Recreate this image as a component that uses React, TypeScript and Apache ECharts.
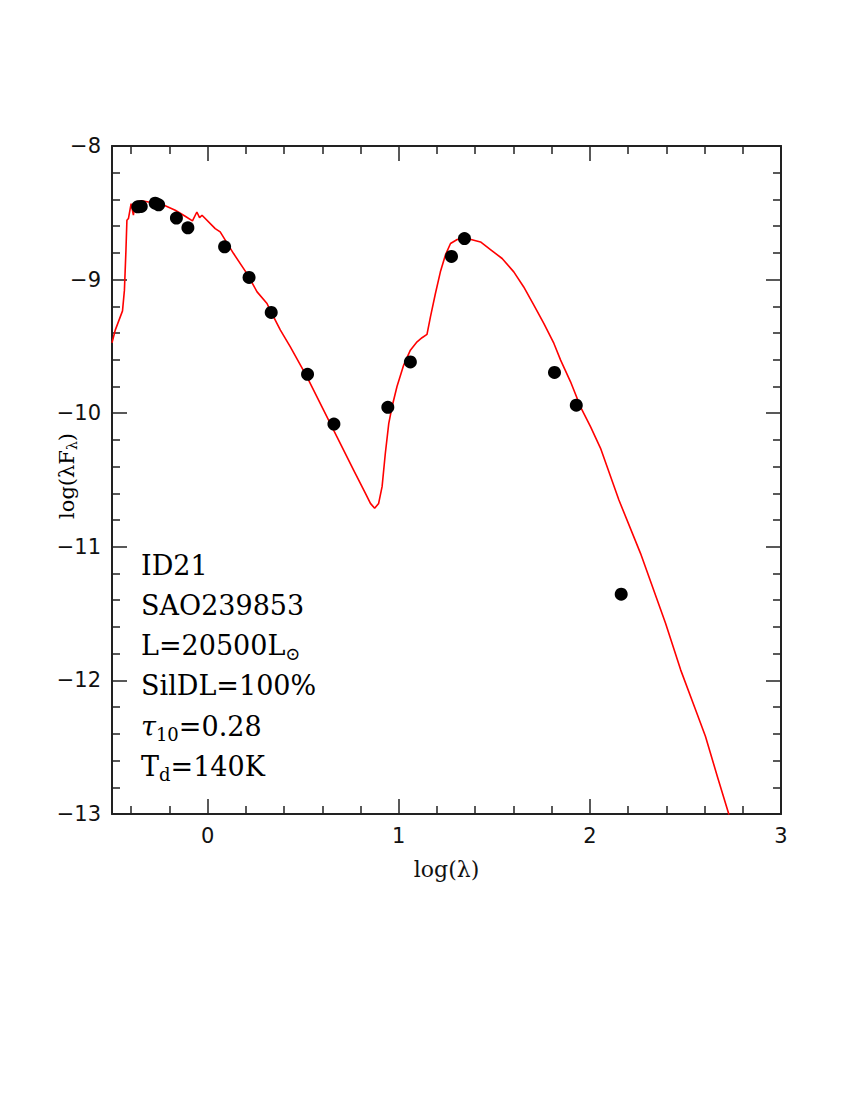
import React, { useEffect, useRef } from "react";
import * as echarts from "echarts";

// model SED curve: [log(lambda), log(lambda F_lambda)]
const modelCurve: [number, number][] = [
  [-0.5, -9.473], [-0.483, -9.378], [-0.445, -9.234], [-0.435, -9.079], [-0.427, -8.78],
  [-0.422, -8.556], [-0.414, -8.543], [-0.4, -8.431], [-0.388, -8.518], [-0.379, -8.419],
  [-0.344, -8.411], [-0.309, -8.419], [-0.239, -8.436], [-0.169, -8.481], [-0.117, -8.526],
  [-0.079, -8.561], [-0.056, -8.494], [-0.042, -8.536], [-0.029, -8.518], [0.04, -8.618],
  [0.066, -8.643], [0.136, -8.805], [0.206, -8.955], [0.259, -9.092], [0.311, -9.179],
  [0.328, -9.23], [0.381, -9.378], [0.433, -9.503], [0.52, -9.728], [0.607, -9.977],
  [0.677, -10.177], [0.764, -10.426], [0.826, -10.6], [0.852, -10.675], [0.874, -10.712],
  [0.895, -10.675], [0.913, -10.55], [0.93, -10.3], [0.948, -10.076], [0.965, -9.952],
  [0.991, -9.8], [1.026, -9.64], [1.061, -9.528], [1.096, -9.466], [1.122, -9.435],
  [1.148, -9.41], [1.166, -9.279], [1.192, -9.104], [1.218, -8.942], [1.244, -8.817],
  [1.271, -8.73], [1.306, -8.7], [1.358, -8.693], [1.428, -8.718], [1.48, -8.775],
  [1.541, -8.842], [1.602, -8.942], [1.654, -9.055], [1.707, -9.191], [1.759, -9.328],
  [1.812, -9.478], [1.847, -9.603], [1.899, -9.765], [1.951, -9.952], [2.004, -10.102],
  [2.056, -10.263], [2.152, -10.65], [2.265, -11.049], [2.396, -11.572], [2.475, -11.921],
  [2.553, -12.22], [2.605, -12.42], [2.667, -12.719], [2.728, -13.006],
];

// observed photometry
const observed: [number, number][] = [
  [-0.365, -8.455], [-0.347, -8.452], [-0.274, -8.428], [-0.256, -8.44], [-0.163, -8.539],
  [-0.103, -8.612], [0.089, -8.755], [0.217, -8.984], [0.333, -9.246], [0.523, -9.709],
  [0.661, -10.081], [0.943, -9.956], [1.061, -9.616], [1.276, -8.827], [1.344, -8.693],
  [1.815, -9.695], [1.929, -9.94], [2.164, -11.355],
];

const xMajorTicks = [0, 1, 2, 3];
const xMinorTicks = [-0.4, -0.2, 0.2, 0.4, 0.6, 0.8, 1.2, 1.4, 1.6, 1.8, 2.2, 2.4, 2.6, 2.8];

const annotationLines = [
  "{a|ID21}",
  "{a|SAO239853}",
  "{a|L=20500L}{s|⊙}",
  "{a|SilDL=100%}",
  "{i|τ}{s|10}{a|=0.28}",
  "{a|T}{s|d}{a|=140K}",
];

const FONT = "DejaVu Serif";
const TICKFONT = "DejaVu Sans";
const AX = "#222";

export default function App() {
  const ref = useRef<HTMLDivElement>(null);
  useEffect(() => {
    if (!ref.current) return;
    const chart = echarts.init(ref.current, null, { renderer: "svg" });
    const lineStyle = { color: AX, width: 2 };
    const tickStyle = { color: AX, width: 1.5 };
    const baseX = {
      type: "value" as const,
      min: -0.5,
      max: 3,
      splitLine: { show: false },
      gridIndex: 0,
    };
    const baseY = {
      type: "value" as const,
      min: -13,
      max: -8,
      interval: 1,
      splitLine: { show: false },
      gridIndex: 0,
    };
    const subRich = {
      a: { fontFamily: FONT, fontSize: 27, color: "#111" },
      i: { fontFamily: FONT, fontSize: 27, color: "#111", fontStyle: "italic" },
      s: { fontFamily: FONT, fontSize: 18, color: "#111", padding: [16, 0, 0, 0] },
    };
    chart.setOption({
      animation: false,
      backgroundColor: "#fff",
      grid: { left: 112, right: 69, top: 146, bottom: 286, containLabel: false },
      xAxis: [
        {
          ...baseX,
          position: "bottom",
          axisLine: { show: true, onZero: false, lineStyle },
          axisTick: { show: true, inside: true, length: 15, customValues: xMajorTicks, lineStyle: tickStyle },
          axisLabel: {
            show: true, customValues: xMajorTicks, margin: 11,
            fontFamily: TICKFONT, fontSize: 21, color: "#111",
          },
          name: "log(λ)",
          nameLocation: "middle",
          nameGap: 44,
          nameTextStyle: { fontFamily: FONT, fontSize: 22, color: "#111" },
        },
        {
          ...baseX,
          position: "bottom",
          axisLine: { show: false, onZero: false },
          axisTick: { show: true, inside: true, length: 8, customValues: xMinorTicks, lineStyle: tickStyle },
          axisLabel: { show: false },
        },
        {
          ...baseX,
          position: "top",
          axisLine: { show: true, onZero: false, lineStyle },
          axisTick: { show: true, inside: true, length: 15, customValues: xMajorTicks, lineStyle: tickStyle },
          axisLabel: { show: false },
        },
        {
          ...baseX,
          position: "top",
          axisLine: { show: false, onZero: false },
          axisTick: { show: true, inside: true, length: 8, customValues: xMinorTicks, lineStyle: tickStyle },
          axisLabel: { show: false },
        },
      ],
      yAxis: [
        {
          ...baseY,
          position: "left",
          axisLine: { show: true, onZero: false, lineStyle },
          axisTick: { show: true, inside: true, length: 15, lineStyle: tickStyle },
          minorTick: { show: true, splitNumber: 5, length: 8, lineStyle: tickStyle },
          axisLabel: {
            show: true, margin: 11, fontFamily: TICKFONT, fontSize: 21, color: "#111",
            formatter: (v: number) => (v < 0 ? "−" + Math.abs(v) : String(v)),
          },
        },
        {
          ...baseY,
          position: "right",
          axisLine: { show: true, onZero: false, lineStyle },
          axisTick: { show: true, inside: true, length: 15, lineStyle: tickStyle },
          minorTick: { show: true, splitNumber: 5, length: 8, lineStyle: tickStyle },
          axisLabel: { show: false },
        },
      ],
      series: [
        {
          type: "line",
          xAxisIndex: 0,
          yAxisIndex: 0,
          data: modelCurve,
          showSymbol: false,
          symbol: "none",
          clip: true,
          lineStyle: { color: "#ff0000", width: 1.6 },
          z: 2,
        },
        {
          type: "scatter",
          xAxisIndex: 0,
          yAxisIndex: 0,
          data: observed,
          symbol: "circle",
          symbolSize: 13,
          itemStyle: { color: "#000", opacity: 1 },
          z: 3,
        },
      ],
      graphic: [
        {
          type: "text",
          x: 67,
          y: 476,
          rotation: Math.PI / 2,
          style: {
            text: "{a|log(λF}{s|λ}{a|)}",
            align: "center",
            verticalAlign: "middle",
            rich: {
              a: { fontFamily: FONT, fontSize: 21, color: "#111" },
              s: { fontFamily: FONT, fontSize: 14, color: "#111", padding: [10, 0, 0, 0] },
            },
          },
        },
        ...annotationLines.map((t, i) => ({
          type: "text",
          x: 141,
          y: 565 + i * 40.3,
          style: {
            text: t,
            align: "left",
            verticalAlign: "middle",
            rich: subRich,
          },
        })),
      ],
    });
    return () => chart.dispose();
  }, []);
  return (
    <div
      ref={ref}
      style={{ position: "absolute", left: 0, top: 0, width: 850, height: 1100, background: "#fff" }}
    />
  );
}
